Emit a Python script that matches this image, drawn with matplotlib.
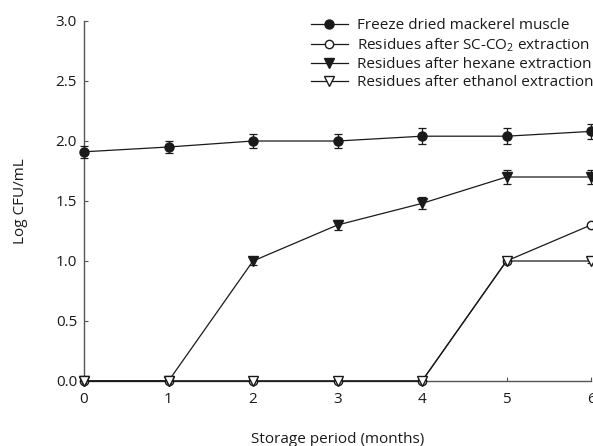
import matplotlib
matplotlib.use("Agg")
import matplotlib.pyplot as plt
from matplotlib.lines import Line2D

months = [0, 1, 2, 3, 4, 5, 6]
freeze_dried = [1.91, 1.95, 2.00, 2.00, 2.04, 2.04, 2.08]
freeze_dried_err = [0.05, 0.05, 0.06, 0.06, 0.065, 0.065, 0.065]
sc_co2 = [0, 0, 0, 0, 0, 1.0, 1.3]
sc_co2_err = [0, 0, 0, 0, 0, 0.02, 0.02]
hexane = [0, 0, 1.0, 1.3, 1.48, 1.70, 1.70]
hexane_err = [0, 0, 0.03, 0.04, 0.05, 0.055, 0.055]
ethanol = [0, 0, 0, 0, 0, 1.0, 1.0]
ethanol_err = [0, 0, 0, 0, 0, 0.02, 0.02]

labels = ["Freeze dried mackerel muscle",
          "Residues after SC-CO$_2$ extraction",
          "Residues after hexane extraction",
          "Residues after ethanol extraction"]

plt.rcParams['font.family'] = ['Open Sans', 'DejaVu Sans']
plt.rcParams['mathtext.fontset'] = 'custom'
plt.rcParams['mathtext.rm'] = 'Open Sans'

fig = plt.figure(figsize=(5.93, 4.46), dpi=100)
ax = fig.add_axes([84/593, 65/446, 507/593, 360/446])

col = '#1a1a1a'
series = [
    (freeze_dried, freeze_dried_err, 'o', col, 6.5),
    (sc_co2, sc_co2_err, 'o', 'white', 6),
    (hexane, hexane_err, 'v', col, 6.5),
    (ethanol, ethanol_err, 'v', 'white', 6.5),
]
handles = []
for (vals, err, m, fc, ms), lab in zip(series, labels):
    h = ax.errorbar(months, vals, yerr=err, marker=m, markersize=ms,
                    markerfacecolor=fc, markeredgecolor=col, color=col,
                    lw=0.9, elinewidth=0.9, capsize=3.2, capthick=0.9,
                    ecolor=col, clip_on=False, zorder=3)
    h.lines[0].set_clip_on(False)
    for c in h.lines[1]:
        c.set_clip_on(False)
    for c in h.lines[2]:
        c.set_clip_on(False)
    handles.append(Line2D([], [], marker=m, markersize=ms, markerfacecolor=fc,
                          markeredgecolor=col, color=col, lw=0.9))

ax.set_xlim(0, 6)
ax.set_ylim(0, 3.0)
ax.set_xticks(months)
ax.set_yticks([0, 0.5, 1.0, 1.5, 2.0, 2.5, 3.0])
ax.set_yticklabels(['0.0', '0.5', '1.0', '1.5', '2.0', '2.5', '3.0'])
ax.spines['top'].set_visible(False)
ax.spines['right'].set_visible(False)
for s in ['left', 'bottom']:
    ax.spines[s].set_color('#555555')
    ax.spines[s].set_linewidth(1.0)
ax.tick_params(direction='in', length=3, width=0.8, color='#555555',
               labelsize=11, labelcolor='#1a1a1a')
ax.tick_params(axis='x', pad=8)
ax.tick_params(axis='y', pad=5)
ax.set_xlabel("Storage period (months)", fontsize=11, color='#1a1a1a', labelpad=18)
ax.set_ylabel("Log CFU/mL", fontsize=11, color='#1a1a1a', labelpad=20)

leg = fig.legend(handles=handles, labels=labels, loc='upper left',
                 bbox_to_anchor=(308/593, 1 - 15/446), frameon=False, fontsize=11,
                 handlelength=2.4, handletextpad=0.6, labelspacing=0.2,
                 borderaxespad=0.0, borderpad=0.2)
for t in leg.get_texts():
    t.set_color('#1a1a1a')

fig.savefig("out.png", dpi=100)
